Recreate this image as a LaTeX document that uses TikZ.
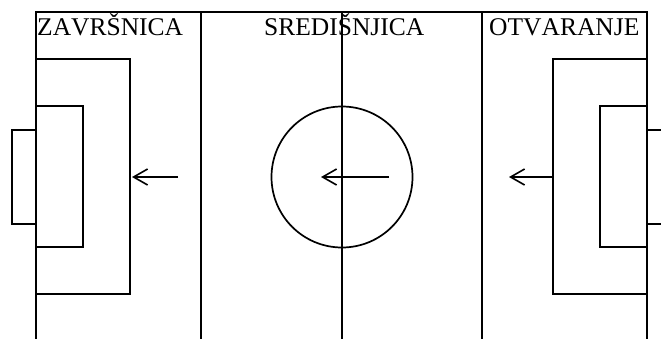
\documentclass[tikz,border=0pt]{standalone}
\usepackage{fontspec}
\setmainfont[Kerning=Off]{Liberation Serif}
\usetikzlibrary{arrows.meta}
\begin{document}
\begin{tikzpicture}[x=1pt,y=-1pt,
  pitch/.style={line width=1.7pt, line cap=rect},
  mv/.style={line width=1.6pt, -{Straight Barb[length=14pt,width=16pt,line width=1.6pt]}},
  zone/.style={inner sep=0pt, font=\fontsize{25.5}{30}\selectfont, anchor=base west}]
\useasboundingbox (0,0) rectangle (661,338);
% outer lines
\draw[pitch] (36,338) -- (36,12) -- (647,12) -- (647,338);
\draw[pitch] (201,12) -- (201,338);
\draw[pitch] (482,12) -- (482,338);
\draw[pitch] (342,12) -- (342,338);
% left penalty areas and goal
\draw[pitch] (36,59) -- (130,59) -- (130,294) -- (36,294);
\draw[pitch] (36,106) -- (83,106) -- (83,247) -- (36,247);
\draw[pitch] (36,130) -- (12,130) -- (12,224) -- (36,224);
% right penalty areas and goal
\draw[pitch] (647,59) -- (553,59) -- (553,294) -- (647,294);
\draw[pitch] (647,106) -- (600,106) -- (600,247) -- (647,247);
\draw[pitch] (647,130) -- (663,130);
\draw[pitch] (647,224) -- (663,224);
% centre circle
\draw[pitch] (342,177) circle (70.5);
% arrows
\coordinate (a1s) at (178,177); \coordinate (a1e) at (132,177);
\coordinate (a2s) at (389,177); \coordinate (a2e) at (321,177);
\coordinate (a3s) at (553,177); \coordinate (a3e) at (509,177);
\draw[mv] (a1s) -- (a1e);
\draw[mv] (a2s) -- (a2e);
\draw[mv] (a3s) -- (a3e);
% labels
\node[zone] (zav) at (37,35.5) {ZAVRŠNICA};
\node[zone] (sre) at (264,35.5) {SREDIŠNJICA};
\node[zone] (otv) at (489,35.5) {OTVARANJE};
\end{tikzpicture}
\end{document}
